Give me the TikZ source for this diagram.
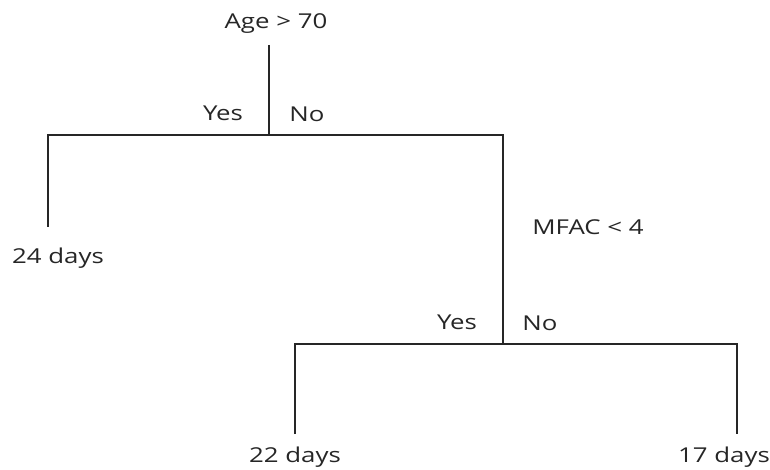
\documentclass[tikz,border=0pt]{standalone}
\usepackage{fontspec}
\setmainfont{Open Sans}
\begin{document}
\begin{tikzpicture}[x=1pt,y=-1pt,
  lbl/.style={inner sep=0pt,anchor=base,text=black!85,font=\fontsize{20.5}{24}\selectfont,xscale=1.26,transform shape},
  edge/.style={line width=1.4pt,draw=black!85}]
\useasboundingbox (0,0) rectangle (770,470);
% texts
\node[lbl] (age) at (276,29) {Age > 70};
\node[lbl] (yes1) at (223,121) {Yes};
\node[lbl] (no1) at (307,122) {No};
\node[lbl] (d24) at (58,263) {24 days};
\node[lbl] (mfac) at (588,234) {MFAC < 4};
\node[lbl] (yes2) at (457,329) {Yes};
\node[lbl] (no2) at (540,330) {No};
\node[lbl] (d22) at (295,462) {22 days};
\node[lbl] (d17) at (724,462) {17 days};
% tree junctions
\coordinate (r0) at (269,45);
\coordinate (r1) at (269,135);
\coordinate (l1) at (48,135);
\coordinate (rr1) at (503,135);
\coordinate (l1e) at (48,227);
\coordinate (s0) at (503,344);
\coordinate (sl) at (295,344);
\coordinate (sr) at (737,344);
\coordinate (sle) at (295,434);
\coordinate (sre) at (737,434);
% connectors
\draw[edge] (r0) -- (r1);
\draw[edge] (l1e) -- (l1) -- (rr1) -- (s0);
\draw[edge] (sle) -- (sl) -- (sr) -- (sre);
\end{tikzpicture}
\end{document}
